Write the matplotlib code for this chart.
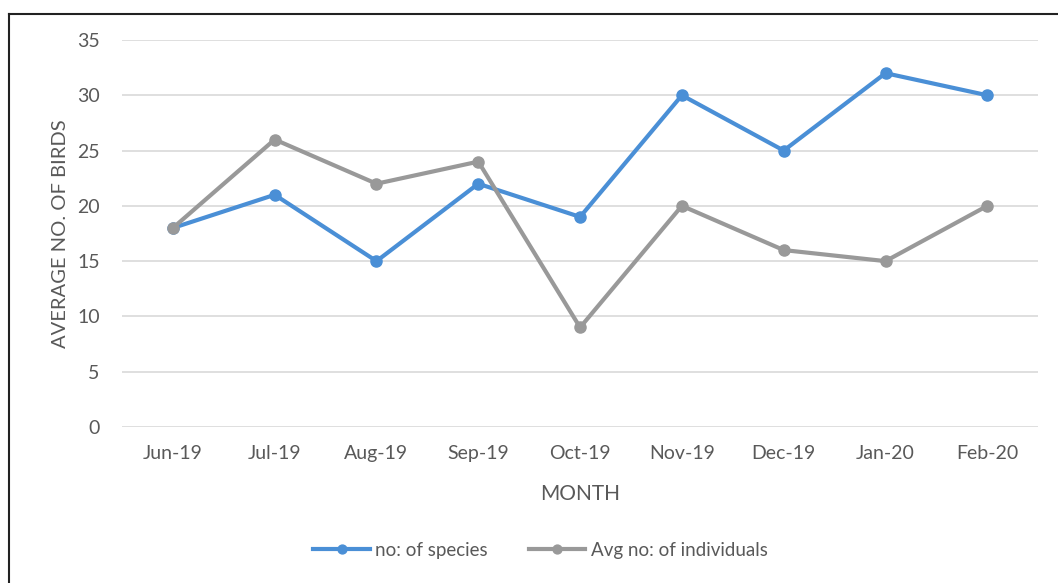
import matplotlib.pyplot as plt
from matplotlib.lines import Line2D

# monthly bird survey
months = ["Jun-19", "Jul-19", "Aug-19", "Sep-19", "Oct-19", "Nov-19", "Dec-19", "Jan-20", "Feb-20"]
species = [18, 21, 15, 22, 19, 30, 25, 32, 30]
individuals = [18, 26, 22, 24, 9, 20, 16, 15, 20]
y_ticks = [0, 5, 10, 15, 20, 25, 30, 35]

plt.rcParams['font.family'] = ['Lato', 'DejaVu Sans']
text_col = "#595959"

fig = plt.figure(figsize=(10.58, 5.83), dpi=100)
ax = fig.add_axes([0.1153, 0.2676, 0.866, 0.6638])

x = list(range(len(months)))
ax.plot(x, species, color="#4A8FD6", lw=3, marker="o", ms=8, label="no: of species", zorder=3)
ax.plot(x, individuals, color="#999999", lw=3, marker="o", ms=8, label="Avg no: of individuals", zorder=3)

ax.set_xlim(-0.5, len(months) - 0.5)
ax.set_ylim(0, 35)
ax.set_yticks(y_ticks)
ax.set_xticks(x)
ax.set_xticklabels(months)
ax.grid(axis="y", color="#d9d9d9", lw=1.2)
ax.set_axisbelow(True)
for s in ax.spines.values():
    s.set_visible(False)
ax.tick_params(length=0, labelsize=14, colors=text_col)
ax.tick_params(axis="x", pad=13)
ax.tick_params(axis="y", pad=16)

ax.set_xlabel("MONTH", fontsize=15, color=text_col)
ax.set_ylabel("AVERAGE NO. OF BIRDS", fontsize=14.5, color=text_col)
ax.xaxis.set_label_coords(0.5, -0.148)
ax.yaxis.set_label_coords(-0.058, 0.5)

ax.legend(loc="center", bbox_to_anchor=(0.457, -0.318), ncol=2, frameon=False,
          fontsize=13.5, labelcolor=text_col, handlelength=3, handletextpad=0.3,
          columnspacing=2.2, markerscale=0.8)

# frame lines on the top and left edge
fig.add_artist(Line2D([0.0085, 1.0], [0.976, 0.976], color="#222222", lw=1.5, transform=fig.transFigure))
fig.add_artist(Line2D([0.0085, 0.0085], [0.0, 0.976], color="#222222", lw=1.5, transform=fig.transFigure))

fig.savefig("out.png", dpi=100)
